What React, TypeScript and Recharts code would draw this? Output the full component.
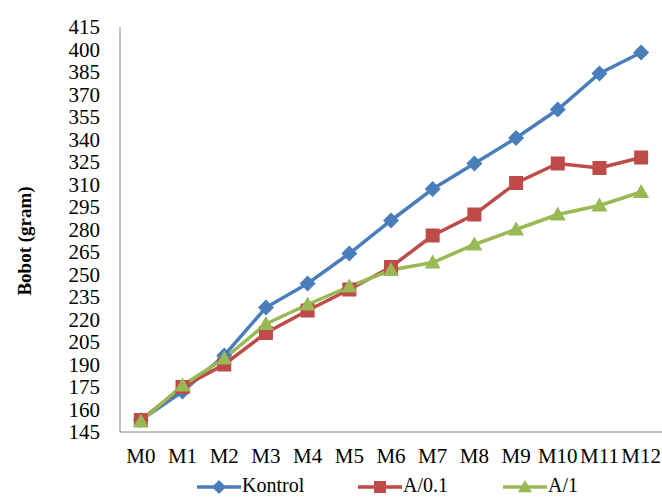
import { CartesianGrid, Legend, Line, LineChart, XAxis, YAxis } from "recharts";

const MONTHS = ["M0", "M1", "M2", "M3", "M4", "M5", "M6", "M7", "M8", "M9", "M10", "M11", "M12"];
const KONTROL = [153, 172, 196, 228, 244, 264, 286, 307, 324, 341, 360, 384, 398];
const A_01 = [153, 175, 190, 211, 226, 240, 255, 276, 290, 311, 324, 321, 328];
const A_1 = [152, 176, 194, 217, 230, 242, 253, 258, 270, 280, 290, 296, 305];
const Y_TICKS = [145, 160, 175, 190, 205, 220, 235, 250, 265, 280, 295, 310, 325, 340, 355, 370, 385, 400, 415];

const BLUE = "#4a7ebb";
const RED = "#be4b48";
const GREEN = "#98b954";
const AXIS = "#868686";
const FONT = "'Liberation Serif', 'Times New Roman', serif";

const data = MONTHS.map((m, i) => ({ m, kontrol: KONTROL[i], a01: A_01[i], a1: A_1[i] }));

function Marker({ cx, cy, shape, color, r = 8 }: { cx: number; cy: number; shape: string; color: string; r?: number }) {
  if (cx == null || cy == null) return null;
  if (shape === "diamond") {
    return <polygon points={`${cx},${cy - r} ${cx + r},${cy} ${cx},${cy + r} ${cx - r},${cy}`} fill={color} />;
  }
  if (shape === "square") {
    const h = r - 1;
    return <rect x={cx - h} y={cy - h} width={h * 2} height={h * 2} fill={color} />;
  }
  return <polygon points={`${cx},${cy - r} ${cx + r},${cy + r * 0.75} ${cx - r},${cy + r * 0.75}`} fill={color} />;
}

const dot = (shape: string, color: string) => (props: any) =>
  <Marker key={`${shape}-${props.index}`} cx={props.cx} cy={props.cy} shape={shape} color={color} />;

const LEGEND = [
  { name: "Kontrol", color: BLUE, shape: "diamond", x: 197 },
  { name: "A/0.1", color: RED, shape: "square", x: 358 },
  { name: "A/1", color: GREEN, shape: "triangle", x: 503 },
];

function LegendRow() {
  return (
    <svg width={662} height={24} style={{ display: "block" }}>
      {LEGEND.map((it) => (
        <g key={it.name}>
          <line x1={it.x} x2={it.x + 44} y1={13} y2={13} stroke={it.color} strokeWidth={3.5} />
          <Marker cx={it.x + 22} cy={13} shape={it.shape} color={it.color} r={7} />
          <text x={it.x + 45} y={18} fontFamily={FONT} fontSize={20} fill="#000">
            {it.name}
          </text>
        </g>
      ))}
    </svg>
  );
}

export default function App() {
  return (
    <div style={{ position: "absolute", left: 0, top: 0, width: 662, height: 498, background: "#fff", overflow: "hidden" }}>
      <LineChart width={662} height={498} data={data} margin={{ top: 27, right: 0, left: 20, bottom: 6 }}>
        <CartesianGrid horizontal={false} vertical={false} />
        <XAxis
          dataKey="m"
          scale="band"
          interval={0}
          stroke={AXIS}
          tickLine={false}
          tickSize={8}
          tickMargin={8}
          height={36}
          tick={{ fill: "#000", fontSize: 21, fontFamily: FONT }}
        />
        <YAxis
          domain={[145, 415]}
          ticks={Y_TICKS}
          interval={0}
          width={100}
          stroke={AXIS}
          tickLine={false}
          tickSize={8}
          tickMargin={12}
          tick={{ fill: "#000", fontSize: 21, fontFamily: FONT }}
          label={{
            content: () => (
              <text
                transform="translate(31,241) rotate(-90)"
                textAnchor="middle"
                fontFamily={FONT}
                fontWeight="bold"
                fontSize={19}
                fill="#000"
              >
                Bobot (gram)
              </text>
            ),
          }}
        />
        <Legend verticalAlign="bottom" wrapperStyle={{ left: 0, top: 474, width: 662 }} content={() => <LegendRow />} />
        <Line dataKey="kontrol" name="Kontrol" stroke={BLUE} strokeWidth={3.5} dot={dot("diamond", BLUE)} isAnimationActive={false} />
        <Line dataKey="a01" name="A/0.1" stroke={RED} strokeWidth={3.5} dot={dot("square", RED)} isAnimationActive={false} />
        <Line dataKey="a1" name="A/1" stroke={GREEN} strokeWidth={3.5} dot={dot("triangle", GREEN)} isAnimationActive={false} />
      </LineChart>
    </div>
  );
}
